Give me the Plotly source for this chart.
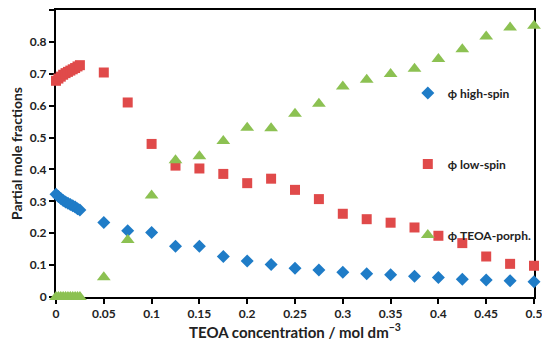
import plotly.graph_objects as go

teoa_conc = [0, 0.0025, 0.005, 0.0075, 0.01, 0.0125, 0.015, 0.0175, 0.02, 0.0225, 0.025,
             0.05, 0.075, 0.1, 0.125, 0.15, 0.175, 0.2, 0.225, 0.25, 0.275, 0.3,
             0.325, 0.35, 0.375, 0.4, 0.425, 0.45, 0.475, 0.5]

phi_high_spin = [0.322, 0.315, 0.309, 0.303, 0.298, 0.294, 0.290, 0.286, 0.282, 0.277, 0.273,
                 0.234, 0.208, 0.202, 0.159, 0.159, 0.127, 0.113, 0.102, 0.090, 0.085, 0.078,
                 0.073, 0.070, 0.065, 0.061, 0.056, 0.053, 0.051, 0.048]

phi_low_spin = [0.678, 0.685, 0.691, 0.697, 0.702, 0.706, 0.710, 0.714, 0.718, 0.723, 0.727,
                0.704, 0.610, 0.480, 0.412, 0.403, 0.386, 0.357, 0.371, 0.336, 0.307, 0.261,
                0.244, 0.233, 0.218, 0.192, 0.169, 0.127, 0.104, 0.098]

phi_teoa_porph = [0, 0, 0, 0, 0, 0, 0, 0, 0, 0, 0,
                  0.062, 0.179, 0.318, 0.429, 0.441, 0.489, 0.531, 0.529, 0.575, 0.606, 0.660,
                  0.681, 0.699, 0.716, 0.746, 0.777, 0.817, 0.845, 0.851]

x_ticks = [0, 0.05, 0.1, 0.15, 0.2, 0.25, 0.3, 0.35, 0.4, 0.45, 0.5]
x_tick_labels = ["0", "0.05", "0.1", "0.15", "0.2", "0.25", "0.3", "0.35", "0.4", "0.45", "0.5"]
y_ticks = [0, 0.1, 0.2, 0.3, 0.4, 0.5, 0.6, 0.7, 0.8, 0.9]
y_tick_labels = ["0", "0.1", "0.2", "0.3", "0.4", "0.5", "0.6", "0.7", "0.8", "0.9"]

FONT = "Lato, 'Open Sans', sans-serif"

fig = go.Figure()
fig.add_trace(go.Scatter(x=teoa_conc, y=phi_high_spin, mode="markers", name="<b>ϕ high-spin</b>",
                         legendgroup="a", cliponaxis=False,
                         marker=dict(symbol="diamond", size=10, color="#1f7cc7")))
fig.add_trace(go.Scatter(x=teoa_conc, y=phi_low_spin, mode="markers", name="<b>ϕ low-spin</b>",
                         legendgroup="b", cliponaxis=False,
                         marker=dict(symbol="square", size=10, color="#e04a4a")))
fig.add_trace(go.Scatter(x=teoa_conc, y=phi_teoa_porph, mode="markers", name="<b>ϕ TEOA-porph.</b>",
                         legendgroup="c", cliponaxis=False,
                         marker=dict(symbol="triangle-up", size=12, color="#8cc152")))

axis_common = dict(showgrid=False, zeroline=False, showline=True, linecolor="black",
                   linewidth=2, mirror=True, ticks="outside", ticklen=5, tickwidth=1.5,
                   tickcolor="black", layer="below traces", automargin=False,
                   tickfont=dict(size=12))

# the page body adds an 8px offset, so margins are shifted to keep the plot area in place
fig.update_layout(
    width=550, height=353,
    margin=dict(l=48, r=24, t=2, b=64),
    paper_bgcolor="white", plot_bgcolor="white",
    font=dict(family=FONT, size=12, color="#222"),
    legend=dict(x=0.736, y=0.761, xanchor="left", yanchor="top",
                bgcolor="rgba(255,255,255,0)", tracegroupgap=52,
                font=dict(family=FONT, size=12, color="#222")),
    xaxis=dict(range=[0, 0.5], tickvals=x_ticks,
               ticktext=["<b>%s</b>" % t for t in x_tick_labels],
               title=dict(text="<b>TEOA concentration / mol dm<sup>−3</sup></b>", standoff=6,
                          font=dict(size=15)), **axis_common),
    yaxis=dict(range=[0, 0.9], tickvals=y_ticks,
               ticktext=["<b>%s</b>" % t for t in y_tick_labels],
               title=dict(text="<b>Partial mole fractions</b>", standoff=8, font=dict(size=14)),
               **axis_common),
)

fig.write_html("out.html")
